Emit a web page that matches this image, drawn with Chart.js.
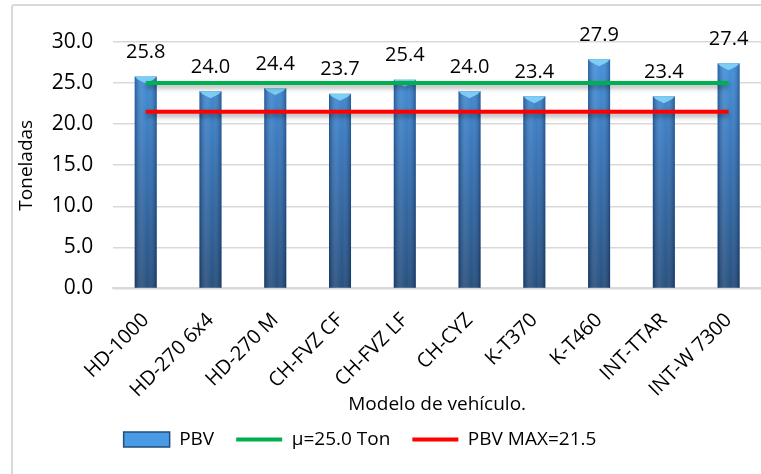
<!DOCTYPE html>
<html>
<head>
<meta charset="utf-8">
<script src="https://cdn.jsdelivr.net/npm/chart.js@4.4.0/dist/chart.umd.min.js"></script>
<style>
  html, body { margin: 0; padding: 0; background: #fff; overflow: hidden; }
  #wrap { position: absolute; left: 11px; top: 4px; width: 750px; height: 470px; border-left: 2px solid #d9d9d9; border-top: 2px solid #d9d9d9; border-top-left-radius: 3px; box-sizing: border-box; }
  canvas { display: block; }
</style>
</head>
<body>
<div id="wrap"><canvas id="c"></canvas></div>
<script>
const categories = ['HD-1000','HD-270 6x4','HD-270 M','CH-FVZ CF','CH-FVZ LF','CH-CYZ','K-T370','K-T460','INT-TTAR','INT-W 7300'];
const pbv = [25.8, 24.0, 24.4, 23.7, 25.4, 24.0, 23.4, 27.9, 23.4, 27.4];
const mean = [25.0, 25.0, 25.0, 25.0, 25.0, 25.0, 25.0, 25.0, 25.0, 25.0];
const pbvMax = [21.5, 21.5, 21.5, 21.5, 21.5, 21.5, 21.5, 21.5, 21.5, 21.5];
const yTicks = [0, 5, 10, 15, 20, 25, 30];

const font = "'Open Sans', sans-serif";

function barFill(ctx){
  const chart = ctx.chart;
  const a = chart.chartArea;
  if(!a) return '#3d7cc9';
  const g = chart.ctx.createLinearGradient(0, a.top, 0, a.bottom);
  g.addColorStop(0, '#3f92e0');
  g.addColorStop(0.45, '#2f6fb5');
  g.addColorStop(1, '#1d4777');
  return g;
}

// shading + cap on bars, value labels above
const barDeco = {
  id: 'barDeco',
  afterDatasetDraw(chart, args){
    if(args.index !== 0) return;
    const c = chart.ctx;
    c.save();
    args.meta.data.forEach(bar => {
      const l = bar.x - bar.width / 2, w = bar.width, t = bar.y, h = bar.base - bar.y;
      const g = c.createLinearGradient(l, 0, l + w, 0);
      g.addColorStop(0, 'rgba(0,20,60,0.35)');
      g.addColorStop(0.35, 'rgba(255,255,255,0.12)');
      g.addColorStop(0.6, 'rgba(255,255,255,0.05)');
      g.addColorStop(1, 'rgba(0,20,60,0.35)');
      c.fillStyle = g;
      c.fillRect(l, t, w, h);
      c.fillStyle = '#7dcdf4';
      c.beginPath();
      c.moveTo(l, t);
      c.lineTo(l + w, t);
      c.lineTo(l + w - 3, t + 3);
      c.lineTo(bar.x, t + 7);
      c.lineTo(l + 3, t + 3);
      c.closePath();
      c.fill();
    });
    c.restore();
  },
  afterDatasetsDraw(chart){
    const meta = chart.getDatasetMeta(0);
    const c = chart.ctx;
    c.save();
    c.font = "20px " + font;
    c.fillStyle = '#000';
    c.textAlign = 'center';
    c.textBaseline = 'bottom';
    meta.data.forEach((bar, i) => {
      c.fillText(pbv[i].toFixed(1), bar.x, bar.y - 14);
    });
    c.restore();
  }
};

const lineShadow = {
  id: 'lineShadow',
  beforeDatasetDraw(chart, args){
    if(args.index === 0) return;
    const c = chart.ctx;
    c.save();
    c.shadowColor = 'rgba(0,0,0,0.35)';
    c.shadowBlur = 5;
    c.shadowOffsetY = 3;
  },
  afterDatasetDraw(chart, args){
    if(args.index === 0) return;
    chart.ctx.restore();
  }
};

// legend sits a little left of centre and higher in the original
const legendShift = {
  id: 'legendShift',
  afterLayout(chart){
    const lg = chart.legend;
    lg.left -= 28; lg.right -= 28;
    lg.top -= 15; lg.bottom -= 15;
  }
};

new Chart(document.getElementById('c'), {
  data: {
    labels: categories,
    datasets: [
      { type: 'bar', label: 'PBV', data: pbv, backgroundColor: barFill, borderWidth: 0, barPercentage: 0.34, categoryPercentage: 1, order: 2 },
      { type: 'line', label: 'μ=25.0 Ton', data: mean, borderColor: '#00b050', backgroundColor: '#00b050', borderWidth: 4, pointRadius: 0, order: 1 },
      { type: 'line', label: 'PBV MAX=21.5', data: pbvMax, borderColor: '#ff0000', backgroundColor: '#ff0000', borderWidth: 4, pointRadius: 0, order: 0 }
    ]
  },
  options: {
    responsive: true,
    maintainAspectRatio: false,
    animation: false,
    layout: { padding: { top: 36, right: 0, left: 2, bottom: 0 } },
    plugins: {
      legend: {
        position: 'bottom',
        labels: {
          font: { family: font, size: 19 },
          color: '#000',
          padding: 22,
          usePointStyle: true,
          pointStyleWidth: 46,
          boxWidth: 46,
          boxHeight: 15,
          generateLabels(chart){
            return chart.data.datasets.map((ds, i) => ({
              text: ds.label,
              fillStyle: i === 0 ? '#4a9be3' : ds.borderColor,
              strokeStyle: i === 0 ? '#1f4e80' : ds.borderColor,
              lineWidth: i === 0 ? 1.5 : 4,
              pointStyle: i === 0 ? 'rect' : 'line',
              datasetIndex: i
            }));
          }
        }
      },
      tooltip: { enabled: false }
    },
    scales: {
      x: {
        grid: { display: false },
        border: { color: '#d9d9d9', width: 2 },
        ticks: { color: '#000', font: { family: font, size: 20 }, maxRotation: 45, minRotation: 45, padding: 12 },
        title: { display: true, text: 'Modelo de vehículo.', color: '#000', font: { family: font, size: 19 }, padding: { top: -21, bottom: 7 } }
      },
      y: {
        min: 0, max: 30,
        afterBuildTicks(axis){ axis.ticks = yTicks.map(v => ({ value: v })); },
        grid: { color: '#d9d9d9', lineWidth: 1.5, drawTicks: false },
        border: { display: false },
        ticks: { color: '#000', font: { family: font, size: 21 }, padding: 20, callback: v => v.toFixed(1) },
        title: { display: true, text: 'Toneladas', color: '#000', font: { family: font, size: 19 }, padding: { top: 0, bottom: -6 } }
      }
    }
  },
  plugins: [barDeco, lineShadow, legendShift]
});
</script>
</body>
</html>
